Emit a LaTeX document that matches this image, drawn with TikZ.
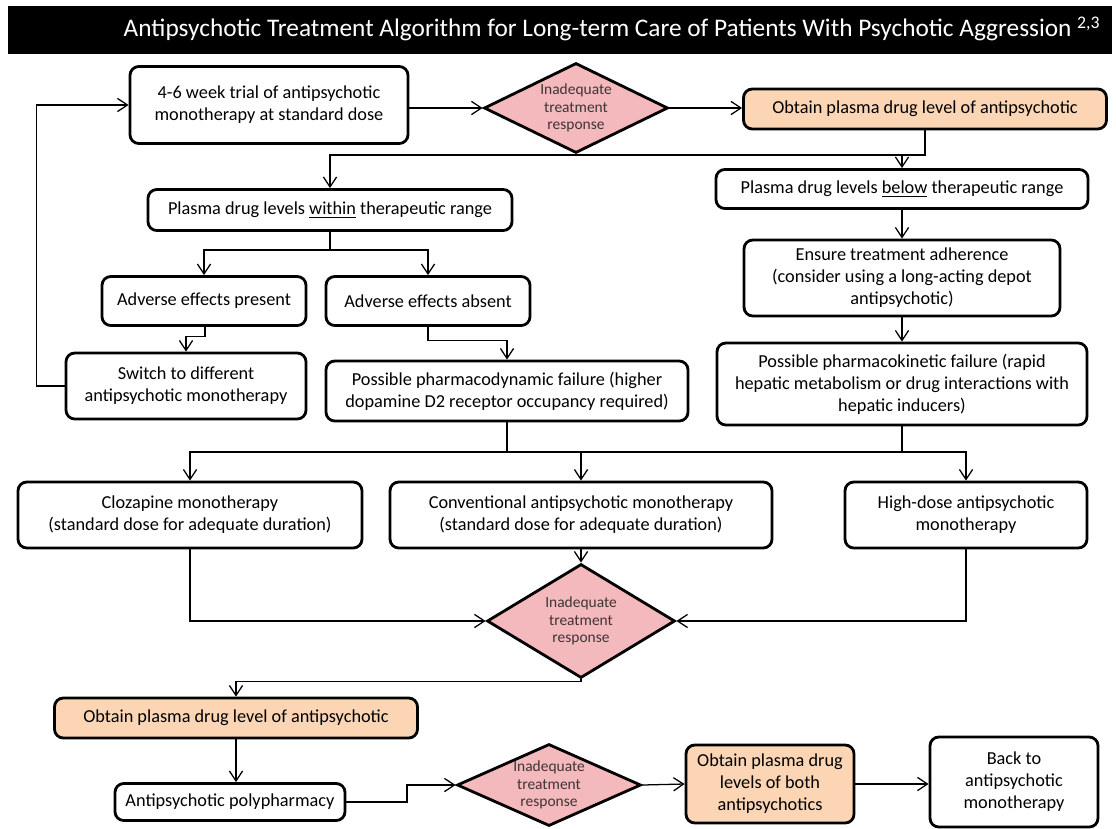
\documentclass[tikz,border=0pt]{standalone}
\usepackage{fontspec}
\setmainfont{Carlito}
\usetikzlibrary{arrows.meta,calc,positioning,shapes.geometric}
\definecolor{Ink}{HTML}{000000}
\definecolor{PeachFill}{HTML}{FCD5B4}
\definecolor{RoseFill}{HTML}{F4B9BC}
\definecolor{RoseInk}{HTML}{3F3535}

\tikzset{
  boxsize/.style 2 args={minimum width=#1*0.025cm,minimum height=#2*0.025cm},
  stepbox/.style={draw=Ink,line width=2pt,rounded corners=0.22cm,fill=white,
    align=center,inner sep=1pt,font=\fontsize{13}{15.6}\selectfont},
  levelbox/.style={stepbox,fill=PeachFill},
  checkpoint/.style={diamond,draw=Ink,line width=2pt,fill=RoseFill,aspect=2,
    inner sep=-3pt,align=center,text=RoseInk,font=\fontsize{11}{12.6}\selectfont},
  flow/.style={draw=Ink,line width=0.9pt,-{Straight Barb[length=2.5mm,width=3.3mm]}},
  link/.style={draw=Ink,line width=0.9pt}
}

\begin{document}
\begin{tikzpicture}[x=0.025cm,y=-0.025cm]
  \useasboundingbox (0,0) rectangle (1116,828);
  % title bar
  \fill[black] (8,6) rectangle (1112,54);
  \node[text=white,font=\fontsize{18}{21}\selectfont] (title) at (612,29)
    {Antipsychotic Treatment Algorithm for Long-term Care of Patients With Psychotic Aggression \textsuperscript{2,3}};

  % first trial
  \node[stepbox,boxsize={278}{77}] (trial) at (269,105) {4-6 week trial of antipsychotic\\monotherapy at standard dose};
  \node[checkpoint,boxsize={184}{90}] (resp1) at (576,108) {Inadequate\\treatment\\response};
  \node[levelbox,boxsize={363}{40}] (level1) at (925,109) {Obtain plasma drug level of antipsychotic};

  % plasma level branches
  \node[stepbox,boxsize={364}{41}] (within) at (330,210) {Plasma drug levels \underline{within} therapeutic range};
  \node[stepbox,boxsize={372}{39}] (below) at (902,189) {Plasma drug levels \underline{below} therapeutic range};
  \node[stepbox,boxsize={316}{76}] (adhere) at (902,278) {Ensure treatment adherence\\(consider using a long-acting depot\\antipsychotic)};
  \node[stepbox,boxsize={370}{82}] (pkfail) at (902,384) {Possible pharmacokinetic failure (rapid\\hepatic metabolism or drug interactions with\\hepatic inducers)};
  \node[stepbox,boxsize={204}{49}] (present) at (204,301) {Adverse effects present};
  \node[stepbox,boxsize={204}{49}] (absent) at (428,301) {Adverse effects absent};
  \node[stepbox,boxsize={240}{66}] (switch) at (186,386) {Switch to different\\antipsychotic monotherapy};
  \node[stepbox,boxsize={362}{60}] (pdfail) at (507,391) {Possible pharmacodynamic failure (higher\\dopamine D2 receptor occupancy required)};

  % second line options
  \node[stepbox,boxsize={344}{66}] (cloz) at (190,515) {Clozapine monotherapy\\(standard dose for adequate duration)};
  \node[stepbox,boxsize={382}{66}] (conv) at (581,515) {Conventional antipsychotic monotherapy\\(standard dose for adequate duration)};
  \node[stepbox,boxsize={242}{66}] (highdose) at (966,515) {High-dose antipsychotic\\monotherapy};
  \node[checkpoint,boxsize={188}{114}] (resp2) at (581,621) {Inadequate\\treatment\\response};

  % polypharmacy
  \node[levelbox,boxsize={363}{40}] (level2) at (236,718) {Obtain plasma drug level of antipsychotic};
  \node[stepbox,boxsize={230}{37}] (poly) at (230,802) {Antipsychotic polypharmacy};
  \node[checkpoint,boxsize={184}{82}] (resp3) at (549,785) {Inadequate\\treatment\\response};
  \node[levelbox,boxsize={168}{78}] (level3) at (770,784) {Obtain plasma drug\\levels of both\\antipsychotics};
  \node[stepbox,boxsize={168}{90}] (back) at (1014,782) {Back to\\antipsychotic\\monotherapy};

  % junctions
  \coordinate (hubA) at (902,155);
  \coordinate (hubB) at (330,250);
  \coordinate (hubC) at (205,338);
  \coordinate (hubE) at (507,452);
  \coordinate (hubF) at (902,452);
  \coordinate (hubG) at (407,785);

  % connectors
  \draw[flow] (switch.west) -- ++(-28,0) |- (trial.west);
  \draw[flow] (trial.east |- resp1.west) -- (resp1.west);
  \draw[flow] (resp1.east) -- (level1.west |- resp1.east);
  \draw[flow] (level1.south) |- (hubA) -| (within.north);
  \draw[flow] (hubA) -- (below.north);
  \draw[flow] (below.south) -- (adhere.north);
  \draw[flow] (adhere.south) -- (pkfail.north);
  \draw[flow] (within.south) |- (hubB) -| (present.north);
  \draw[flow] (hubB) -| (absent.north);
  \draw[flow] (present.south -| hubC) |- ($(switch.north)+(0,-15)$) -- (switch.north);
  \draw[flow] (absent.south) |- ($(pdfail.north)+(0,-19)$) -- (pdfail.north);
  \draw[flow] (pdfail.south) -- (hubE) -| (cloz.north);
  \draw[flow] (hubE) -| (conv.north);
  \draw[link] (hubE) -- (hubF);
  \draw[flow] (pkfail.south) -- (hubF) -| (highdose.north);
  \draw[flow] (cloz.south) |- (resp2.west);
  \draw[flow] (highdose.south) |- (resp2.east);
  \draw[flow] (conv.south) -- (resp2.north);
  \draw[flow] (resp2.south) -- ++(0,2) -| (level2.north);
  \draw[flow] (level2.south) -- (poly.north -| level2.south);
  \draw[flow] (poly.east) -| (hubG) -- (resp3.west);
  \draw[flow] (resp3.east) -- (level3.west);
  \draw[flow] (level3.east) -- (back.west |- level3.east);
\end{tikzpicture}
\end{document}
